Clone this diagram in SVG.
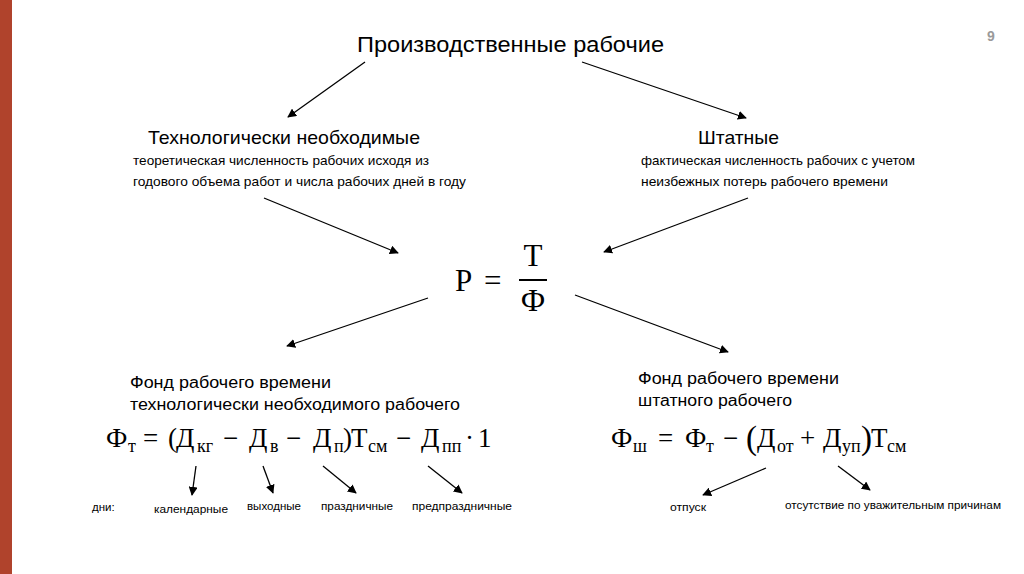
<svg xmlns="http://www.w3.org/2000/svg" width="1024" height="574" viewBox="0 0 1024 574">
<defs>
<marker id="ah" viewBox="0 0 10 10" refX="9" refY="5" markerWidth="9" markerHeight="9" markerUnits="userSpaceOnUse" orient="auto">
<path d="M0,0 L10,5 L0,10 z" fill="#000"/>
</marker>
<style>
.s{font-family:"Liberation Sans",Arial,sans-serif;fill:#000}
.m{font-family:"Liberation Serif","Times New Roman",serif;fill:#000}
.c line{stroke:#000;stroke-width:1.3;marker-end:url(#ah)}
</style>
</defs>
<rect width="1024" height="574" fill="#fff"/>
<rect x="0" y="0" width="12" height="574" fill="#B0432C"/>
<text x="991" y="41" font-family="Liberation Sans, Arial, sans-serif" font-size="14" font-weight="bold" fill="#9a9a9a" text-anchor="middle">9</text>

<g id="title"><text class="s" x="357" y="52" font-size="22" textLength="307" lengthAdjust="spacingAndGlyphs">Производственные рабочие</text></g>

<g id="tech">
<text class="s" x="148" y="144" font-size="19" textLength="272" lengthAdjust="spacingAndGlyphs">Технологически необходимые</text>
<text class="s" x="133" y="165" font-size="13.5" textLength="296" lengthAdjust="spacingAndGlyphs">теоретическая численность рабочих исходя из</text>
<text class="s" x="133" y="186" font-size="13.5" textLength="333" lengthAdjust="spacingAndGlyphs">годового объема работ и числа рабочих дней в году</text>
</g>

<g id="staff">
<text class="s" x="698" y="144" font-size="19" textLength="81" lengthAdjust="spacingAndGlyphs">Штатные</text>
<text class="s" x="641" y="165" font-size="13.5" textLength="274" lengthAdjust="spacingAndGlyphs">фактическая численность рабочих с учетом</text>
<text class="s" x="641" y="186" font-size="13.5" textLength="247" lengthAdjust="spacingAndGlyphs">неизбежных потерь рабочего времени</text>
</g>

<g id="formulaP">
<text class="m" x="455" y="291" font-size="31">Р</text>
<text class="m" x="484" y="291" font-size="31">=</text>
<line x1="519" y1="280" x2="547" y2="280" stroke="#000" stroke-width="2"/>
<text class="m" x="533" y="266" font-size="31" text-anchor="middle">Т</text>
<text class="m" x="533" y="311" font-size="31" text-anchor="middle">Ф</text>
</g>

<g id="fundTech">
<text class="s" x="130" y="388" font-size="16" textLength="201" lengthAdjust="spacingAndGlyphs">Фонд рабочего времени</text>
<text class="s" x="130" y="410" font-size="16" textLength="330" lengthAdjust="spacingAndGlyphs">технологически необходимого рабочего</text>
<g class="m" font-size="27">
<text x="106" y="447">Ф</text>
<text x="128" y="452" font-size="18">т</text>
<text x="143" y="447">=</text>
<text x="168" y="447">(</text>
<text x="176" y="447">Д</text>
<text x="197" y="452" font-size="18">кг</text>
<text x="223" y="447">−</text>
<text x="249" y="447">Д</text>
<text x="270" y="452" font-size="18">в</text>
<text x="286" y="447">−</text>
<text x="313" y="447">Д</text>
<text x="334" y="452" font-size="18">п</text>
<text x="343" y="447">)</text>
<text x="351" y="447">Т</text>
<text x="368" y="452" font-size="18">см</text>
<text x="396" y="447">−</text>
<text x="421" y="447">Д</text>
<text x="442" y="452" font-size="18">пп</text>
<text x="465" y="447">·</text>
<text x="478" y="447">1</text>
</g>
</g>

<g id="fundStaff">
<text class="s" x="638" y="384" font-size="16" textLength="201" lengthAdjust="spacingAndGlyphs">Фонд рабочего времени</text>
<text class="s" x="638" y="406" font-size="16" textLength="154" lengthAdjust="spacingAndGlyphs">штатного рабочего</text>
<g class="m" font-size="27">
<text x="611" y="447">Ф</text>
<text x="633" y="452" font-size="18">ш</text>
<text x="658" y="447">=</text>
<text x="685" y="447">Ф</text>
<text x="706" y="452" font-size="18">т</text>
<text x="723" y="447">−</text>
<text x="746" y="449" font-size="33">(</text>
<text x="757" y="447">Д</text>
<text x="777" y="452" font-size="18">от</text>
<text x="800" y="447">+</text>
<text x="823" y="447">Д</text>
<text x="842" y="452" font-size="18">уп</text>
<text x="861" y="449" font-size="33">)</text>
<text x="871" y="447">Т</text>
<text x="887" y="452" font-size="18">см</text>
</g>
</g>

<g id="days">
<text class="s" x="92" y="511" font-size="11.5">дни:</text>
<text class="s" x="154" y="513" font-size="11.5" textLength="74" lengthAdjust="spacingAndGlyphs">календарные</text>
<text class="s" x="247" y="510" font-size="11.5" textLength="54" lengthAdjust="spacingAndGlyphs">выходные</text>
<text class="s" x="321" y="510" font-size="11.5" textLength="72" lengthAdjust="spacingAndGlyphs">праздничные</text>
<text class="s" x="412" y="510" font-size="11.5" textLength="100" lengthAdjust="spacingAndGlyphs">предпраздничные</text>
<text class="s" x="670" y="511" font-size="11.5" textLength="36" lengthAdjust="spacingAndGlyphs">отпуск</text>
<text class="s" x="785" y="509" font-size="11.5" textLength="216" lengthAdjust="spacingAndGlyphs">отсутствие по уважительным причинам</text>
</g>

<g id="connectors" class="c">
<line x1="365" y1="62" x2="288" y2="117"/>
<line x1="582" y1="62" x2="746" y2="118"/>
<line x1="264" y1="198" x2="398" y2="253"/>
<line x1="748" y1="198" x2="604" y2="252"/>
<line x1="428" y1="298" x2="287" y2="346"/>
<line x1="575" y1="295" x2="728" y2="352"/>
<line x1="196" y1="466" x2="192" y2="495"/>
<line x1="263" y1="466" x2="273" y2="493"/>
<line x1="323" y1="466" x2="356" y2="493"/>
<line x1="428" y1="466" x2="462" y2="493"/>
<line x1="766" y1="468" x2="703" y2="495"/>
<line x1="838" y1="466" x2="870" y2="490"/>
</g>
</svg>
